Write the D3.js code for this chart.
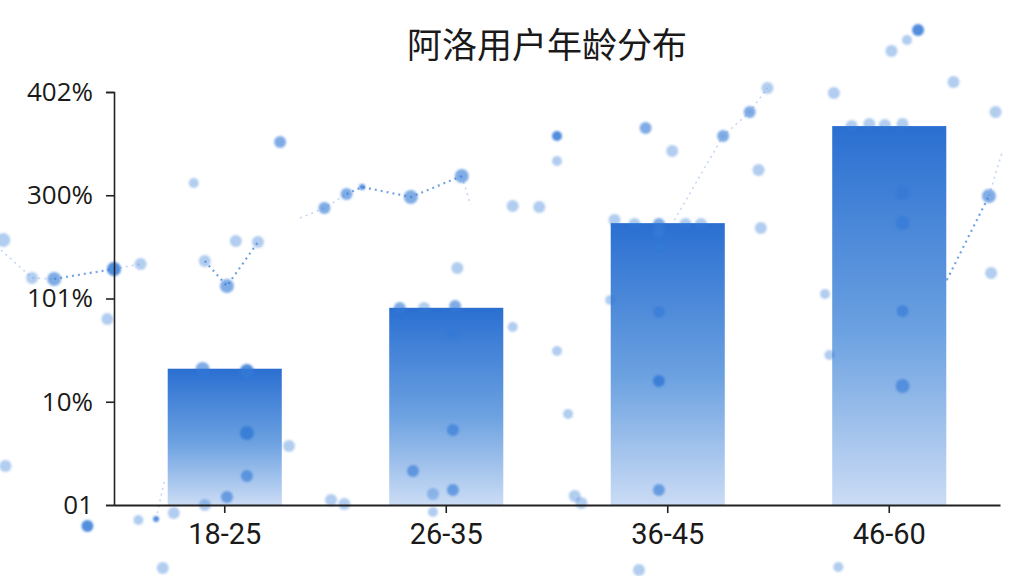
<!DOCTYPE html>
<html><head><meta charset="utf-8">
<script src="https://cdn.jsdelivr.net/npm/d3@7"></script>
<style>html,body{margin:0;padding:0;background:#fff;}svg{display:block;}</style>
</head><body>
<svg id="chart" width="1024" height="576"></svg>
<script>
const title = "阿洛用户年龄分布";
const categories = ["18-25","26-35","36-45","46-60"];
const values = [13.2, 19.1, 27.3, 36.7];
const yTickValues = [0, 10, 20, 30, 40];
const yTickLabels = ["01", "10%", "101%", "300%", "402%"];

// decorative scatter: [category-position, value, strength(0 light,1 medium,2 dark), size]
const decoDots = [
 [-0.50,25.67,0,7],[-0.49,3.78,0,6],[-0.37,21.99,0,6],[-0.27,21.89,1,7],[0.00,22.86,2,7],
 [0.12,23.34,0,6],[-0.03,18.01,0,6],[0.36,31.19,0,5],[0.41,23.63,0,6],[0.51,21.21,1,7],
 [0.55,25.57,0,6],[0.65,25.47,0,6],[0.75,35.16,1,6],[0.95,28.77,1,6],[1.05,30.12,1,6],
 [1.12,30.80,2,3],[1.34,29.83,1,7],[1.57,31.86,1,7],[1.55,22.95,0,6],[1.80,17.24,0,5],
 [1.80,28.96,0,6],[1.92,28.86,0,6],[2.00,35.74,2,5],[2.00,33.32,0,5],[2.00,14.92,0,5],
 [2.05,8.81,0,5],[2.24,19.85,0,5],[2.40,36.51,1,6],[2.52,34.29,0,6],[2.75,35.74,1,6],
 [2.87,38.06,1,6],[2.95,40.39,0,6],[2.91,32.45,0,6],[2.92,26.83,0,6],[3.25,39.90,0,6],
 [3.51,43.97,0,6],[3.58,45.04,0,5],[3.63,46.00,2,6],[3.79,40.97,0,6],[3.98,38.06,0,6],
 [3.21,20.44,0,5],[3.23,14.53,0,5],[3.95,29.93,1,7],[3.96,22.47,0,6],
 [0.40,13.17,1,7],[0.60,12.98,2,7],[1.29,19.08,1,6],[1.40,19.08,0,6],[1.54,19.27,1,6],
 [2.26,27.60,0,6],[2.35,27.22,0,6],[2.46,27.22,1,6],[2.58,27.22,0,6],[2.65,27.22,0,6],
 [3.33,36.71,0,6],[3.41,36.90,0,6],[3.48,36.80,0,6],[3.56,36.90,0,6],
 [0.60,6.97,2,7],[0.60,2.81,1,6],[0.51,0.77,1,6],[0.41,0.00,0,6],
 [1.53,16.66,2,6],[1.53,7.26,1,6],[1.35,3.29,1,6],[1.53,1.45,1,6],
 [2.46,26.44,2,6],[2.46,24.89,2,5],[2.46,18.69,1,6],[2.46,12.01,2,6],[2.46,1.45,1,6],
 [3.56,30.22,1,7],[3.56,27.31,1,7],[3.56,18.79,1,6],[3.56,11.53,1,7],
 [-0.12,-2.03,2,6],[0.11,-1.45,0,5],[0.19,-1.36,2,3],[0.27,-0.77,0,6],[0.79,5.71,0,6],
 [0.98,0.48,0,6],[1.04,0.10,0,6],[1.44,1.07,0,6],[1.44,-0.68,0,5],[2.08,0.87,0,6],
 [2.11,0.19,0,6],[0.22,-6.10,0,6],[2.37,-6.30,0,6],[3.27,-6.00,0,5]
];
// decorative dotted traces: [strength, points]
const decoLines = [
 [0, [[-0.51,24.7],[-0.37,21.99],[-0.27,21.89]]],
 [1, [[-0.27,21.89],[0.00,22.86]]],
 [0, [[0.00,22.86],[0.12,23.34]]],
 [1, [[0.41,23.63],[0.51,21.21],[0.65,25.47]]],
 [0, [[0.84,27.80],[0.95,28.77],[1.05,30.12]]],
 [1, [[1.05,30.12],[1.12,30.80],[1.34,29.83],[1.57,31.86]]],
 [0, [[1.57,31.86],[1.61,29.06]]],
 [0, [[2.53,27.60],[2.75,35.74],[2.87,38.06],[2.95,40.39]]],
 [0, [[3.56,11.53],[3.76,21.79]]],
 [1, [[3.76,21.79],[3.95,29.93]]],
 [0, [[3.95,29.93],[4.01,34.19]]],
 [0, [[0.19,-1.36],[0.23,2.61]]]
];

const W = 1024, H = 576;
const margin = {top: 92, right: 24, bottom: 71, left: 114};
const svg = d3.select("#chart");
const defs = svg.append("defs");
const grad = defs.append("linearGradient").attr("id","barGrad")
  .attr("x1","0").attr("y1","0").attr("x2","0").attr("y2","1");
grad.append("stop").attr("offset","0%").attr("stop-color","#2a6fd1");
grad.append("stop").attr("offset","55%").attr("stop-color","#6da2e1");
grad.append("stop").attr("offset","100%").attr("stop-color","#cbdcf5");
defs.append("filter").attr("id","soft").append("feGaussianBlur").attr("stdDeviation",0.8);

const x = d3.scaleBand().domain(categories)
  .range([margin.left, W - margin.right]).paddingInner(0.485).paddingOuter(0.2425);
const xDeco = d3.scaleLinear().domain([0, categories.length])
  .range([margin.left, W - margin.right]);
const y = d3.scaleLinear().domain([0, 40]).range([H - margin.bottom, margin.top]);

const strengthOpacity = [0.38, 0.62, 0.85];

// decorative lines
const lineGen = d3.line().x(d => xDeco(d[0])).y(d => y(d[1]));
svg.append("g").selectAll("path").data(decoLines).join("path")
  .attr("d", d => lineGen(d[1]))
  .attr("fill","none")
  .attr("stroke","#3a7dd6")
  .attr("stroke-opacity", d => d[0] ? 0.7 : 0.3)
  .attr("stroke-width", d => d[0] ? 2.2 : 1.6)
  .attr("stroke-dasharray","2,4");

// bars
svg.append("g").selectAll("rect").data(values).join("rect")
  .attr("x", (d,i) => x(categories[i]))
  .attr("y", d => y(d))
  .attr("width", x.bandwidth())
  .attr("height", d => y(0) - y(d))
  .attr("fill","url(#barGrad)");

// decorative dots
svg.append("g").attr("filter","url(#soft)").selectAll("circle").data(decoDots).join("circle")
  .attr("cx", d => xDeco(d[0]))
  .attr("cy", d => y(d[1]))
  .attr("r", d => d[3])
  .attr("fill","#3479d6")
  .attr("fill-opacity", d => strengthOpacity[d[2]]);

// y axis
const yAxis = d3.axisLeft(y).tickValues(yTickValues)
  .tickFormat((d,i) => yTickLabels[i]).tickSize(8).tickPadding(13);
const gy = svg.append("g").attr("transform",`translate(${margin.left},0)`).call(yAxis);
gy.select(".domain").attr("stroke","#222").attr("stroke-width",1.6);
gy.selectAll(".tick line").attr("stroke","#222").attr("stroke-width",1.6);
gy.selectAll(".tick text").attr("fill","#1a1a1a")
  .style("font-family","'Open Sans','Liberation Sans',sans-serif").style("font-size","26px");

// x axis
const xAxis = d3.axisBottom(x).tickSize(8).tickPadding(10).tickSizeOuter(0);
const gx = svg.append("g").attr("transform",`translate(0,${y(0)})`).call(xAxis);
gx.select(".domain").attr("stroke","#222").attr("stroke-width",1.8);
gx.selectAll(".tick line").attr("stroke","#222").attr("stroke-width",1.6);
gx.selectAll(".tick text").attr("fill","#1a1a1a")
  .style("font-family","'Liberation Sans Narrow','Roboto','Liberation Sans',sans-serif").style("font-size","29px");

// title
svg.append("text").attr("x", 547).attr("y", 58).attr("text-anchor","middle")
  .attr("fill","#1a1a1a")
  .style("font-family","'Noto Sans CJK SC',sans-serif").style("font-size","35px")
  .text(title);
</script>
</body></html>
